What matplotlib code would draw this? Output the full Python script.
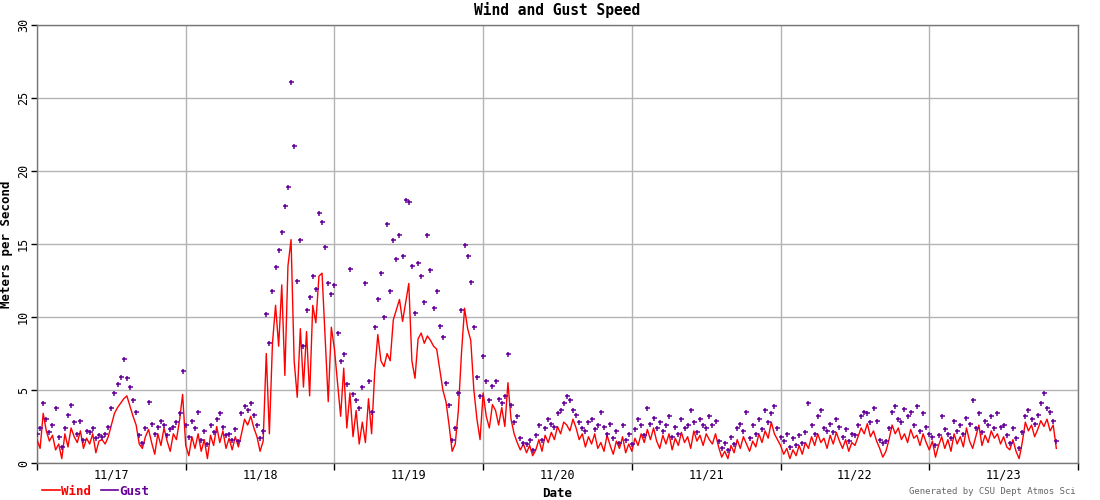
import numpy as np
import pandas as pd
import matplotlib
matplotlib.use("Agg")
import matplotlib.pyplot as plt
import matplotlib.dates as mdates
from matplotlib.lines import Line2D

plt.rcParams['font.family'] = ['DejaVu Sans Mono']

start_time = "2023-11-17 00:00"
step = "30min"

wind = [
    1.6, 1.0, 3.4, 2.2, 1.5, 1.9, 0.9, 1.3, 0.3, 2.0, 1.1, 2.4, 1.8, 1.4, 2.2, 1.0,
    1.7, 1.3, 2.0, 0.7, 1.5, 1.6, 1.3, 1.8, 2.6, 3.4, 3.8, 4.1, 4.4, 4.6, 3.9, 3.2,
    2.6, 1.3, 1.0, 1.8, 2.3, 1.4, 0.6, 2.0, 1.2, 2.4, 1.5, 0.8, 2.0, 1.6, 2.9, 4.7,
    # 11/18
    1.2, 0.5, 1.8, 1.0, 2.0, 0.8, 1.6, 0.3, 1.9, 1.2, 2.5, 1.4, 2.2, 1.0, 1.7, 0.9,
    1.8, 1.1, 2.0, 3.0, 2.6, 3.2, 2.4, 1.8, 0.8, 1.5, 7.5, 2.0, 8.2, 10.8, 8.0, 12.2,
    6.0, 13.5, 15.3, 7.0, 4.5, 9.2, 5.2, 9.0, 4.6, 10.8, 9.6, 12.8, 13.0, 8.6, 4.2, 9.3,
    # 11/19
    7.8, 5.5, 3.2, 6.5, 2.4, 4.8, 1.8, 3.6, 1.3, 2.8, 1.4, 4.4, 2.0, 6.2, 8.8, 7.0,
    6.6, 7.5, 7.0, 9.8, 10.5, 11.2, 9.7, 11.0, 12.3, 7.0, 5.8, 8.5, 8.9, 8.2, 8.7, 8.4,
    8.0, 7.8, 6.4, 5.0, 4.2, 2.6, 0.8, 1.3, 3.6, 7.5, 10.6, 9.2, 8.4, 5.0, 3.0, 1.6,
    # 11/20
    4.8, 3.2, 2.4, 4.0, 3.6, 2.6, 3.8, 2.5, 5.5, 3.0, 2.0, 1.4, 0.9, 1.3, 0.7, 1.2,
    0.5, 0.9, 1.6, 0.8, 1.9, 1.4, 2.1, 1.6, 2.5, 2.0, 2.8, 2.6, 2.2, 3.0, 2.4, 1.6,
    2.0, 1.1, 1.8, 1.3, 2.0, 1.0, 1.4, 0.8, 1.9, 1.2, 0.6, 1.5, 1.0, 1.8, 0.7, 1.3,
    # 11/21
    0.8, 1.7, 1.2, 2.0, 1.4, 2.3, 1.6, 2.4, 1.5, 1.0, 1.9, 1.3, 2.0, 0.9, 1.7, 1.2,
    2.1, 1.4, 1.8, 1.0, 2.2, 1.5, 1.9, 1.2, 2.0, 1.6, 1.3, 2.0, 1.1, 0.4, 0.8, 0.3,
    1.2, 0.7, 1.6, 1.0, 1.8, 1.3, 0.8, 1.5, 1.1, 2.0, 1.4, 2.2, 1.7, 2.8, 2.0, 1.6,
    # 11/22
    1.2, 0.6, 1.0, 0.3, 0.9, 0.5, 1.2, 0.6, 1.4, 1.0, 1.8, 1.2, 2.0, 1.4, 1.7, 1.0,
    1.9, 1.3, 2.1, 1.5, 1.0, 1.6, 0.8, 1.4, 1.2, 1.8, 2.4, 2.0, 2.7, 1.8, 2.2, 1.5,
    1.0, 0.4, 0.8, 1.6, 2.6, 2.0, 2.4, 1.6, 2.0, 1.4, 2.3, 1.7, 1.9, 1.2, 2.0, 1.4,
    # 11/23
    0.9, 1.5, 0.4, 1.2, 1.8, 1.0, 1.6, 0.8, 2.0, 1.3, 1.8, 1.1, 2.4, 1.5, 1.0, 1.8,
    2.6, 1.2, 1.9, 1.4, 2.2, 1.7, 2.0, 1.3, 1.8, 1.1, 0.9, 1.6, 0.8, 0.3, 1.4, 2.8,
    2.2, 2.6, 1.8, 2.3, 2.9, 2.5, 3.0, 2.2, 2.6, 1.0,
]

gust = [
    2.0, 2.4, 4.1, 3.0, 2.1, 2.6, 3.8, 1.8, 1.1, 2.4, 3.3, 4.0, 2.8, 2.0, 2.9, 1.6,
    2.2, 2.1, 2.4, 1.7, 1.9, 1.8, 2.0, 2.5, 3.8, 4.8, 5.4, 5.9, 7.1, 5.8, 5.2, 4.3,
    3.5, 1.9, 1.4, 2.4, 4.2, 2.7, 2.0, 2.5, 2.9, 2.6, 1.9, 2.3, 2.5, 2.8, 3.4, 6.3,
    # 11/18
    2.6, 1.8, 2.9, 2.4, 3.5, 1.6, 2.2, 1.3, 2.6, 2.1, 3.0, 3.4, 2.5, 1.9, 2.0, 1.6,
    2.3, 1.5, 3.4, 3.9, 3.6, 4.1, 3.3, 2.6, 1.7, 2.2, 10.2, 8.2, 11.8, 13.4, 14.6, 15.8,
    17.6, 18.9, 26.1, 21.7, 12.5, 15.3, 8.0, 10.5, 11.4, 12.8, 11.9, 17.1, 16.5, 14.8, 12.3, 11.6,
    # 11/19
    12.2, 8.9, 7.0, 7.5, 5.4, 13.3, 4.7, 4.3, 3.8, 5.2, 12.3, 5.6, 3.5, 9.3, 11.2, 13.0,
    10.0, 16.4, 11.8, 15.3, 14.0, 15.6, 14.2, 18.0, 17.9, 13.5, 10.3, 13.7, 12.8, 11.0, 15.6, 13.2,
    10.6, 11.8, 9.4, 8.6, 5.5, 4.0, 1.6, 2.4, 4.8, 10.5, 14.9, 14.2, 12.4, 9.3, 5.9, 4.6,
    # 11/20
    7.3, 5.6, 4.3, 5.3, 5.6, 4.4, 4.1, 4.6, 7.5, 4.0, 2.8, 3.2, 1.7, 1.4, 1.3, 1.6,
    0.9, 1.9, 2.6, 1.6, 2.4, 3.0, 2.7, 2.5, 3.4, 3.6, 4.1, 4.6, 4.3, 3.6, 3.3, 2.8,
    2.4, 2.2, 2.8, 3.0, 2.3, 2.6, 3.5, 2.5, 2.0, 2.7, 1.7, 2.2, 1.4, 2.6, 1.6, 2.0,
    # 11/21
    1.3, 2.3, 3.0, 2.6, 1.9, 3.8, 2.7, 3.1, 2.4, 2.8, 2.2, 2.6, 3.2, 1.8, 2.5, 2.0,
    3.0, 2.4, 2.6, 3.6, 2.8, 2.1, 3.0, 2.6, 2.4, 3.2, 2.6, 2.9, 1.5, 1.0, 1.4, 0.9,
    1.8, 1.3, 2.4, 2.7, 2.2, 3.5, 1.7, 2.6, 2.0, 3.0, 2.3, 3.6, 2.8, 3.4, 3.9, 2.4,
    # 11/22
    1.8, 1.5, 2.0, 1.1, 1.7, 1.2, 1.9, 1.4, 2.1, 4.1, 2.6, 2.0, 3.2, 3.6, 2.4, 2.2,
    2.7, 2.1, 3.0, 2.5, 1.8, 2.3, 1.5, 2.0, 1.9, 2.6, 3.2, 3.5, 3.4, 2.8, 3.8, 2.9,
    1.6, 1.4, 1.5, 2.4, 3.5, 3.9, 3.0, 2.8, 3.7, 3.2, 3.5, 2.6, 3.9, 2.2, 3.4, 2.5,
    # 11/23
    2.0, 1.8, 1.2, 1.9, 3.2, 2.3, 2.0, 1.7, 2.9, 2.2, 2.6, 2.0, 3.1, 2.7, 4.3, 2.4,
    3.4, 2.1, 2.9, 2.6, 3.2, 2.4, 3.4, 2.5, 2.6, 1.9, 1.4, 2.4, 1.7, 1.0, 2.1, 3.2,
    3.6, 3.0, 2.7, 3.3, 4.1, 4.8, 3.8, 3.5, 2.9, 1.5,
]

y_ticks = [0, 5, 10, 15, 20, 25, 30]
day_labels = ["11/17", "11/18", "11/19", "11/20", "11/21", "11/22", "11/23"]

times = pd.date_range(start_time, periods=len(wind), freq=step)

RED = "#ff0000"
PURPLE = "#660099"

fig = plt.figure(figsize=(11, 5), dpi=100)
ax = fig.add_axes([37 / 1100, 37 / 500, (1078 - 37) / 1100, (463 - 25) / 500])

ax.plot(times, wind, color=RED, lw=1.0, zorder=3)
ax.plot(times, gust, linestyle="none", marker="+", color=PURPLE,
        markersize=3.6, markeredgewidth=1.1, zorder=4)

x0 = pd.Timestamp(start_time)
ax.set_xlim(x0, x0 + pd.Timedelta(days=7))
ax.set_ylim(0, 30)

# x: major ticks at midnight (tick marks + grid), minor at noon (labels)
day_edges = [x0 + pd.Timedelta(days=d) for d in range(8)]
noons = [x0 + pd.Timedelta(days=d, hours=12) for d in range(7)]
ax.set_xticks(day_edges)
ax.set_xticklabels([""] * len(day_edges))
ax.set_xticks(noons, minor=True)
ax.set_xticklabels(day_labels, minor=True)
ax.tick_params(axis="x", which="major", direction="out", length=5, width=1, color="black")
ax.tick_params(axis="x", which="minor", length=0, labelsize=8.5, pad=4)

ax.set_yticks(y_ticks)
ax.set_yticklabels([str(v) for v in y_ticks], rotation=90, va="center")
ax.tick_params(axis="y", direction="out", length=4, width=1, color="black",
               labelsize=8.5, pad=1)

ax.grid(True, which="major", color="#b4b4b4", lw=1.0)
ax.set_axisbelow(True)
for sp in ax.spines.values():
    sp.set_color("#777777")
    sp.set_linewidth(1.0)

ax.set_title("Wind and Gust Speed", fontsize=10.5, fontweight="bold", pad=7)
ax.set_ylabel("Meters per Second", fontsize=9, fontweight="bold", labelpad=3)
ax.set_xlabel("Date", fontsize=9, fontweight="bold", labelpad=4)

handles = [Line2D([0], [0], color=RED, lw=1.2), Line2D([0], [0], color=PURPLE, lw=1.2)]
fig.legend(handles, ["Wind", "Gust"], loc="lower left", bbox_to_anchor=(0.028, -0.018),
           ncol=2, frameon=False, handlelength=1.4, handletextpad=0.1,
           columnspacing=0.8, labelcolor=[RED, PURPLE],
           prop={"family": "DejaVu Sans Mono", "weight": "bold", "size": 9})

fig.text(0.978, 0.008, "Generated by CSU Dept Atmos Sci", ha="right", va="bottom",
         fontsize=6.5, color="#666666")

fig.savefig("out.png", dpi=100)
